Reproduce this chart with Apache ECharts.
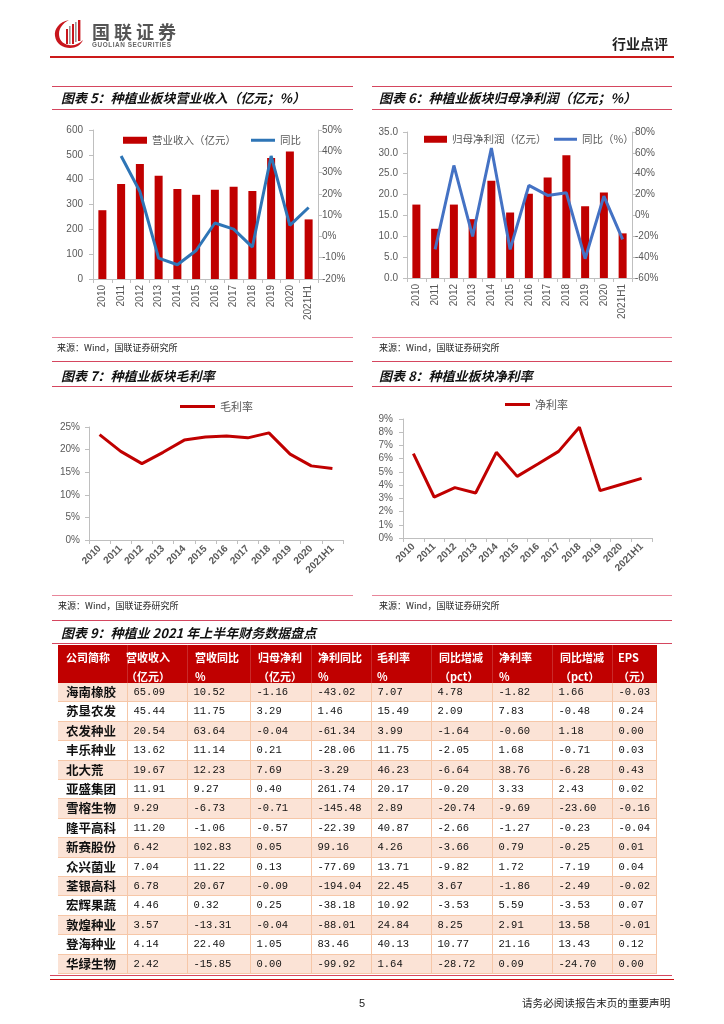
<!DOCTYPE html>
<html><head><meta charset="utf-8">
<script src="https://cdn.jsdelivr.net/npm/echarts@6/dist/echarts.min.js"></script>
<style>
body{margin:0;background:#fff;}
#page{position:relative;width:724px;height:1024px;overflow:hidden;font-family:"Noto Sans CJK SC",sans-serif;background:#fff;}
#chart{position:absolute;left:0;top:0;width:724px;height:1024px;}
.hl{position:absolute;height:0;}
.title{position:absolute;font-size:13px;font-style:italic;font-weight:bold;color:#111;white-space:nowrap;line-height:16px;}
.src{position:absolute;font-size:9px;color:#222;white-space:nowrap;line-height:12px;}
.cell{position:absolute;box-sizing:border-box;white-space:nowrap;overflow:hidden;}
</style></head>
<body><div id="page">
<div id="chart"></div>
</div>
<script>
// ---------- data ----------
const categories = ['2010','2011','2012','2013','2014','2015','2016','2017','2018','2019','2020','2021H1'];
const revenue = [277, 383, 463, 416, 362, 339, 359, 371, 354, 487, 513, 240];
const revenueYoy = [null, 37.8, 21.1, -10.2, -13.3, -6.6, 6.3, 3.4, -5.0, 37.8, 5.2, 13.6];
const profit = [17.6, 11.8, 17.6, 14.1, 23.3, 15.7, 20.2, 24.1, 29.4, 17.2, 20.5, 10.7];
const profitYoy = [null, -32.6, 47.9, -20.1, 64.6, -32.6, 28.8, 19.2, 21.7, -41.5, 18.5, -23.0];
const grossMargin = [23.3, 19.6, 16.9, 19.4, 22.1, 22.8, 23.0, 22.6, 23.7, 19.0, 16.4, 15.8];
const netMargin = [6.38, 3.10, 3.81, 3.40, 6.48, 4.66, 5.6, 6.55, 8.37, 3.58, 4.05, 4.51];

const tableHeaders = [['公司简称',''],['营收收入','（亿元）'],['营收同比','%'],['归母净利','（亿元）'],['净利同比','%'],['毛利率','%'],['同比增减','（pct）'],['净利率','%'],['同比增减','（pct）'],['EPS','（元）']];
const companies = ['海南橡胶','苏垦农发','农发种业','丰乐种业','北大荒','亚盛集团','雪榕生物','隆平高科','新赛股份','众兴菌业','荃银高科','宏辉果蔬','敦煌种业','登海种业','华绿生物'];
const colRevenue = ['65.09','45.44','20.54','13.62','19.67','11.91','9.29','11.20','6.42','7.04','6.78','4.46','3.57','4.14','2.42'];
const colRevYoy = ['10.52','11.75','63.64','11.14','12.23','9.27','-6.73','-1.06','102.83','11.22','20.67','0.32','-13.31','22.40','-15.85'];
const colNetProfit = ['-1.16','3.29','-0.04','0.21','7.69','0.40','-0.71','-0.57','0.05','0.13','-0.09','0.25','-0.04','1.05','0.00'];
const colNpYoy = ['-43.02','1.46','-61.34','-28.06','-3.29','261.74','-145.48','-22.39','99.16','-77.69','-194.04','-38.18','-88.01','83.46','-99.92'];
const colGm = ['7.07','15.49','3.99','11.75','46.23','20.17','2.89','40.87','4.26','13.71','22.45','10.92','24.84','40.13','1.64'];
const colGmChg = ['4.78','2.09','-1.64','-2.05','-6.64','-0.20','-20.74','-2.66','-3.66','-9.82','3.67','-3.53','8.25','10.77','-28.72'];
const colNm = ['-1.82','7.83','-0.60','1.68','38.76','3.33','-9.69','-1.27','0.79','1.72','-1.86','5.59','2.91','21.16','0.09'];
const colNmChg = ['1.66','-0.48','1.18','-0.71','-6.28','2.43','-23.60','-0.23','-0.25','-7.19','-2.49','-3.53','13.58','13.43','-24.70'];
const colEps = ['-0.03','0.24','0.00','0.03','0.43','0.02','-0.16','-0.04','0.01','0.04','-0.02','0.07','-0.01','0.12','0.00'];

// ---------- static page pieces ----------
const page = document.getElementById('page');
function add(html){ page.insertAdjacentHTML('beforeend', html); }
function hline(x1,x2,y,color,w){ add(`<div class="hl" style="left:${x1}px;top:${y-w/2}px;width:${x2-x1}px;border-top:${w}px solid ${color};"></div>`); }
function text(cls,x,y,t,extra){ add(`<div class="${cls}" style="left:${x}px;top:${y}px;${extra||''}">${t}</div>`); }

// header
add(`<svg style="position:absolute;left:54px;top:19px" width="32" height="30" viewBox="0 0 32 30">
<path d="M15,1 C5,3 0,10 1,17 C2,25 9,29 16,29 C22,29 27,26 29,21 C25,25 20,27 15,26 C8,25 5,20 5,15 C5,9 9,4 15,1 Z" fill="#C8161D"/>
<rect x="12" y="10" width="2" height="15" fill="#C8161D"/>
<rect x="15" y="7" width="1.6" height="18" fill="#999"/>
<rect x="18" y="5" width="2" height="20" fill="#C8161D"/>
<rect x="21" y="3" width="1.6" height="20" fill="#999"/>
<rect x="24" y="1" width="2.4" height="21" fill="#C8161D"/>
</svg>`);
text('abs',92,21,'国联证券','position:absolute;font-size:18px;letter-spacing:4px;font-weight:bold;color:#555;line-height:20px;white-space:nowrap;');
text('abs',92,41,'GUOLIAN SECURITIES','position:absolute;font-family:\'Liberation Sans\';font-size:6.4px;letter-spacing:0.55px;font-weight:bold;color:#666;line-height:8px;white-space:nowrap;');
text('abs',612,35,'行业点评','position:absolute;font-size:14px;font-weight:bold;color:#222;line-height:16px;white-space:nowrap;');
hline(50,674,57,'#CC1A1A',2);

const lineC = '#D5465F', srcC = '#E8869A';
// panels top
hline(52,353,87,lineC,1.5); hline(372,672,87,lineC,1.5);
hline(52,353,110,lineC,1.5); hline(372,672,110,lineC,1.5);
text('title',61,90,'图表 5：种植业板块营业收入（亿元；%）');
text('title',379,90,'图表 6：种植业板块归母净利润（亿元；%）');
hline(52,353,338,srcC,1.5); hline(372,672,338,srcC,1.5);
text('src',57,342,'来源：Wind，国联证券研究所');
text('src',379,342,'来源：Wind，国联证券研究所');
// panels bottom
hline(52,353,362,lineC,1.5); hline(372,672,362,lineC,1.5);
hline(52,353,387,lineC,1.5); hline(372,672,387,lineC,1.5);
text('title',61,368,'图表 7：种植业板块毛利率');
text('title',379,368,'图表 8：种植业板块净利率');
hline(52,353,596,srcC,1.5); hline(372,672,596,srcC,1.5);
text('src',58,600,'来源：Wind，国联证券研究所');
text('src',379,600,'来源：Wind，国联证券研究所');
// table title
hline(52,672,621,lineC,1.5);
text('title',61,625,'图表 9：种植业 2021 年上半年财务数据盘点');
hline(52,672,644,lineC,1.5);

// table
const colW = [69,60,63,61,60,60,61,60,60,45];
const tLeft = 58, hTop = 645, hH = 38, rowH = 19.4;
const colX = []; { let x = tLeft; colW.forEach(w => { colX.push(x); x += w; }); }
const tWidth = colW.reduce((a,b)=>a+b,0);
add(`<div class="cell" style="left:${tLeft}px;top:${hTop}px;width:${tWidth}px;height:${hH}px;background:#C00000;"></div>`);
const headPad = [8,-1,8,8,7,6,8,7,8,6];
tableHeaders.forEach((h,j) => {
  if (j>0) add(`<div class="cell" style="left:${colX[j]}px;top:${hTop}px;width:1px;height:${hH}px;background:#C92A2A;"></div>`);
  add(`<div class="cell" style="left:${colX[j]+headPad[j]}px;top:${hTop+3}px;line-height:19px;font-size:11px;font-weight:bold;color:#fff;">${h[0]}<br>${h[1]}</div>`);
});
const columns = [companies,colRevenue,colRevYoy,colNetProfit,colNpYoy,colGm,colGmChg,colNm,colNmChg,colEps];
const dTop = hTop + hH;
companies.forEach((c,i) => {
  const y = dTop + i*rowH;
  add(`<div class="cell" style="left:${tLeft}px;top:${y}px;width:${tWidth}px;height:${rowH}px;background:${i%2===0?'#FBE3D6':'#fff'};border-bottom:1px solid #F6C7A8;"></div>`);
  columns.forEach((col,j) => {
    const isName = j===0;
    add(`<div class="cell" style="left:${colX[j]+(isName?8:6.5)}px;top:${y-(isName?1:0)}px;height:${rowH}px;line-height:${rowH}px;${isName?'font-size:12.5px;font-weight:bold;color:#111;':'font-family:\'Liberation Mono\',monospace;font-size:10.5px;color:#111;'}">${col[i]}</div>`);
  });
});
for (let j=1;j<colW.length;j++){
  add(`<div class="cell" style="left:${colX[j]-0.5}px;top:${dTop}px;width:1px;height:${rowH*companies.length}px;background:#F6C7A8;"></div>`);
}
add(`<div class="cell" style="left:${tLeft+tWidth-1}px;top:${dTop}px;width:1px;height:${rowH*companies.length}px;background:#F6C7A8;"></div>`);
hline(50,672,975.5,lineC,1.5);
hline(50,674,980,'#CC1111',1.5);
text('abs',359,995,'5','position:absolute;font-family:\'Liberation Sans\';font-size:11px;color:#222;line-height:16px;');
text('abs',522,995,'请务必阅读报告末页的重要声明','position:absolute;font-size:10.6px;color:#222;line-height:16px;white-space:nowrap;');

// ---------- charts ----------
const lab = {color:'#595959', fontSize:10, fontFamily:'Liberation Sans'};
const axLine = {show:true, lineStyle:{color:'#BFBFBF', width:1}};
const axTick = {show:true, length:4, lineStyle:{color:'#BFBFBF'}};
function catAxis(gi, rot, bold){
  return {type:'category', gridIndex:gi, data:categories, axisLine:axLine, axisTick:axTick,
    axisLabel:Object.assign({}, lab, {rotate:rot, margin: rot===90?6:7, interval:0, fontWeight: bold?'bold':'normal'})};
}
function valAxis(gi, pos, min, max, interval, fmt, margin){
  return {type:'value', gridIndex:gi, position:pos, min, max, interval, splitLine:{show:false},
    axisLine:axLine, axisTick:axTick, axisLabel:Object.assign({}, lab, {formatter:fmt, margin})};
}
const legText = {color:'#595959', fontSize:10.5, fontFamily:'Noto Sans CJK SC'};
function leg(name,left,top,w,h,fs){
  return {data:[name], left, top, padding:0, itemWidth:w, itemHeight:h, icon:'rect',
    textStyle:Object.assign({}, legText, fs?{fontSize:fs}:{}), selectedMode:false};
}
const chart = echarts.init(document.getElementById('chart'), null, {renderer:'canvas'});
chart.setOption({
  animation:false,
  grid:[
    {left:93, top:130, width:225, height:149},
    {left:407, top:132, width:225, height:146},
    {left:89, top:427, width:254, height:113},
    {left:403, top:419, width:249, height:119}
  ],
  xAxis:[catAxis(0,90,false), catAxis(1,90,false), catAxis(2,45,true), catAxis(3,45,true)],
  yAxis:[
    valAxis(0,'left',0,600,100,'{value}',10),
    valAxis(0,'right',-20,50,10,'{value}%',4),
    valAxis(1,'left',0,35,5,v=>v.toFixed(1),9),
    valAxis(1,'right',-60,80,20,'{value}%',3),
    valAxis(2,'left',0,25,5,'{value}%',9),
    valAxis(3,'left',0,9,1,'{value}%',10)
  ],
  legend:[
    leg('营业收入（亿元）',123,135,24,7),
    leg('同比',251,135,24,3),
    leg('归母净利润（亿元）',424,134,23,7),
    leg('同比（%）',554,134,23,3),
    leg('毛利率',180,401,35,3,11),
    leg('净利率',505,399,25,3,11)
  ],
  series:[
    {name:'营业收入（亿元）', type:'bar', xAxisIndex:0, yAxisIndex:0, data:revenue, barWidth:8, itemStyle:{color:'#C00000'}},
    {name:'同比', type:'line', xAxisIndex:0, yAxisIndex:1, data:revenueYoy, symbol:'none', z:5, lineStyle:{color:'#2E75B6', width:3}, itemStyle:{color:'#2E75B6'}},
    {name:'归母净利润（亿元）', type:'bar', xAxisIndex:1, yAxisIndex:2, data:profit, barWidth:8, itemStyle:{color:'#C00000'}},
    {name:'同比（%）', type:'line', xAxisIndex:1, yAxisIndex:3, data:profitYoy, symbol:'none', z:5, lineStyle:{color:'#4472C4', width:3}, itemStyle:{color:'#4472C4'}},
    {name:'毛利率', type:'line', xAxisIndex:2, yAxisIndex:4, data:grossMargin, symbol:'none', lineStyle:{color:'#C00000', width:3}, itemStyle:{color:'#C00000'}},
    {name:'净利率', type:'line', xAxisIndex:3, yAxisIndex:5, data:netMargin, symbol:'none', lineStyle:{color:'#C00000', width:3}, itemStyle:{color:'#C00000'}}
  ]
});
</script>
</body></html>
